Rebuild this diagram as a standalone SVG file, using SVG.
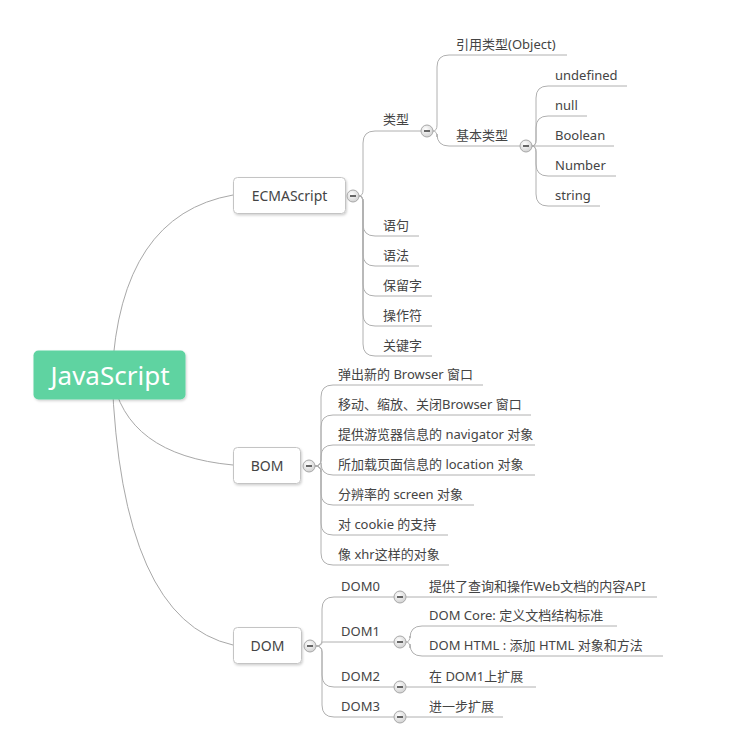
<svg xmlns="http://www.w3.org/2000/svg" width="738" height="750" viewBox="0 0 738 750">
<defs>
<radialGradient id="cg" cx="0.4" cy="0.35" r="0.7">
<stop offset="0" stop-color="#ffffff"/>
<stop offset="1" stop-color="#cfcfcf"/>
</radialGradient>
<filter id="sh" x="-10%" y="-10%" width="130%" height="140%">
<feDropShadow dx="1" dy="1.5" stdDeviation="1.2" flood-color="#000" flood-opacity="0.18"/>
</filter>
<g id="col">
<circle r="6" fill="url(#cg)" stroke="#a8a8a8" stroke-width="1"/>
<rect x="-3" y="-1" width="6" height="2" fill="#666"/>
</g>
</defs>
<style>
text{font-family:"Noto Sans","Noto Sans CJK SC",sans-serif;fill:#444;font-size:13px}
.box{fill:#fff;stroke:#c4c4c4;stroke-width:1}
.lbl{font-size:14px;text-anchor:middle}
.root{fill:#5fd3a1}
.rt{font-size:26px;fill:#fff;text-anchor:middle}
.c{fill:none;stroke:#b0b0b0;stroke-width:1}
.m{fill:none;stroke:#a8a8a8;stroke-width:1}
</style>
<rect width="738" height="750" fill="#fff"/>
<g id="connectors">
<path class="m" d="M112,375 Q120,215 233,195"/>
<path class="m" d="M112,375 Q125,455 233,465"/>
<path class="m" d="M112,375 Q121,620 233,645"/>
<!-- ECMAScript children -->
<path class="c" d="M359,196 Q363,196 363,190 L363,143 Q363,131 375,131 L421,131"/>
<path class="c" d="M359,196 Q363,196 363,202 L363,224 Q363,236 375,236 L419,236"/>
<path class="c" d="M359,196 Q363,196 363,202 L363,254 Q363,266 375,266 L419,266"/>
<path class="c" d="M359,196 Q363,196 363,202 L363,284 Q363,296 375,296 L432,296"/>
<path class="c" d="M359,196 Q363,196 363,202 L363,314 Q363,326 375,326 L432,326"/>
<path class="c" d="M359,196 Q363,196 363,202 L363,344 Q363,356 375,356 L432,356"/>
<!-- 类型 children -->
<path class="c" d="M433,131 Q437,131 437,125 L437,67 Q437,55 449,55 L567,55"/>
<path class="c" d="M433,131 Q437,131 437,137 L437,134 Q437,146 449,146 L520,146"/>
<!-- 基本类型 children -->
<path class="c" d="M532,146 Q536,146 536,140 L536,98 Q536,86 548,86 L627,86"/>
<path class="c" d="M532,146 Q536,146 536,140 L536,128 Q536,116 548,116 L587,116"/>
<path class="c" d="M532,146 L614,146"/>
<path class="c" d="M532,146 Q536,146 536,152 L536,164 Q536,176 548,176 L616,176"/>
<path class="c" d="M532,146 Q536,146 536,152 L536,194 Q536,206 548,206 L600,206"/>
<!-- BOM children -->
<path class="c" d="M315,466 Q321,466 321,460 L321,397 Q321,385 333,385 L483,385"/>
<path class="c" d="M315,466 Q321,466 321,460 L321,427 Q321,415 333,415 L531,415"/>
<path class="c" d="M315,466 Q321,466 321,460 L321,457 Q321,445 333,445 L535,445"/>
<path class="c" d="M315,466 Q321,466 321,472 L321,463 Q321,475 333,475 L535,475"/>
<path class="c" d="M315,466 Q321,466 321,472 L321,493 Q321,505 333,505 L474,505"/>
<path class="c" d="M315,466 Q321,466 321,472 L321,523 Q321,535 333,535 L448,535"/>
<path class="c" d="M315,466 Q321,466 321,472 L321,553 Q321,565 333,565 L449,565"/>
<!-- DOM children -->
<path class="c" d="M316,646 Q322,646 322,640 L322,609 Q322,597 334,597 L394,597"/>
<path class="c" d="M316,646 Q322,646 322,642 L334,642 L394,642"/>
<path class="c" d="M316,646 Q322,646 322,652 L322,675 Q322,687 334,687 L394,687"/>
<path class="c" d="M316,646 Q322,646 322,652 L322,705 Q322,717 334,717 L394,717"/>
<path class="c" d="M406,597 L657,597"/>
<path class="c" d="M406,642 Q410,642 410,636 L410,638 Q410,626 422,626 L617,626"/>
<path class="c" d="M406,642 Q410,642 410,648 L410,644 Q410,656 422,656 L663,656"/>
<path class="c" d="M406,687 L536,687"/>
<path class="c" d="M406,717 L503,717"/>
</g>
<g id="root">
<rect class="root" x="33.5" y="350.5" width="152" height="49" rx="5" filter="url(#sh)"/>
<text class="rt" x="110" y="385">JavaScript</text>
</g>
<g id="ecmascript">
<rect class="box" x="233.5" y="177.5" width="112" height="36" rx="4" filter="url(#sh)"/>
<text class="lbl" x="289.5" y="201">ECMAScript</text>
<use href="#col" x="353" y="196"/>
</g>
<g id="bom">
<rect class="box" x="233.5" y="447.5" width="67" height="36" rx="4" filter="url(#sh)"/>
<text class="lbl" x="267" y="471">BOM</text>
<use href="#col" x="309" y="466"/>
</g>
<g id="dom">
<rect class="box" x="233.5" y="627.5" width="68" height="36" rx="4" filter="url(#sh)"/>
<text class="lbl" x="267.5" y="651">DOM</text>
<use href="#col" x="310" y="646"/>
</g>
<g id="type"><text x="383" y="124">类型</text><use href="#col" x="427" y="131"/></g>
<g id="yuju"><text x="383" y="230">语句</text></g>
<g id="yufa"><text x="383" y="260">语法</text></g>
<g id="baoliuzi"><text x="383" y="290">保留字</text></g>
<g id="caozuofu"><text x="383" y="320">操作符</text></g>
<g id="guanjianzi"><text x="383" y="350">关键字</text></g>
<g id="object"><text x="456" y="49">引用类型(Object)</text></g>
<g id="basic"><text x="456" y="140">基本类型</text><use href="#col" x="526" y="146"/></g>
<g id="undefined"><text x="555" y="80">undefined</text></g>
<g id="null"><text x="555" y="110">null</text></g>
<g id="boolean"><text x="555" y="140">Boolean</text></g>
<g id="number"><text x="555" y="170">Number</text></g>
<g id="string"><text x="555" y="200">string</text></g>
<g id="bom1"><text x="338" y="379">弹出新的 Browser 窗口</text></g>
<g id="bom2"><text x="338" y="409">移动、缩放、关闭Browser 窗口</text></g>
<g id="bom3"><text x="338" y="439">提供游览器信息的 navigator 对象</text></g>
<g id="bom4"><text x="338" y="469">所加载页面信息的 location 对象</text></g>
<g id="bom5"><text x="338" y="499">分辨率的 screen 对象</text></g>
<g id="bom6"><text x="338" y="529">对 cookie 的支持</text></g>
<g id="bom7"><text x="338" y="559">像 xhr这样的对象</text></g>
<g id="dom0"><text x="341" y="591">DOM0</text><use href="#col" x="400" y="597"/></g>
<g id="dom1"><text x="341" y="636">DOM1</text><use href="#col" x="400" y="642"/></g>
<g id="dom2"><text x="341" y="681">DOM2</text><use href="#col" x="400" y="687"/></g>
<g id="dom3"><text x="341" y="711">DOM3</text><use href="#col" x="400" y="717"/></g>
<g id="dom0c"><text x="429" y="591">提供了查询和操作Web文档的内容API</text></g>
<g id="domcore"><text x="429" y="620">DOM Core: 定义文档结构标准</text></g>
<g id="domhtml"><text x="429" y="650">DOM HTML : 添加 HTML 对象和方法</text></g>
<g id="dom2c"><text x="429" y="681">在 DOM1上扩展</text></g>
<g id="dom3c"><text x="429" y="711">进一步扩展</text></g>
</svg>
